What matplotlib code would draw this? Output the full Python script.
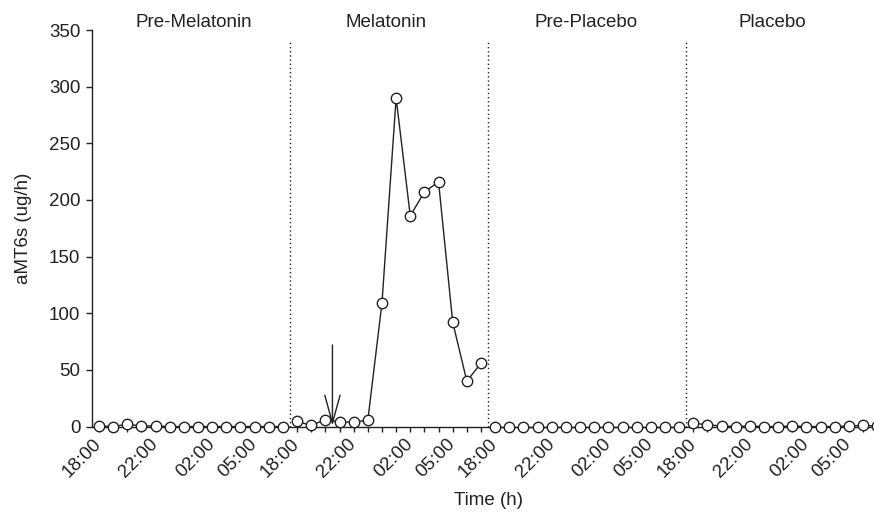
import matplotlib.pyplot as plt
import numpy as np

plt.rcParams['font.family'] = ['Liberation Sans', 'DejaVu Sans']

# hourly samples 18:00 -> 07:00, four recording nights
hours = ["18:00", "19:00", "20:00", "21:00", "22:00", "23:00", "00:00",
         "01:00", "02:00", "03:00", "04:00", "05:00", "06:00", "07:00"]
shown_hours = ["18:00", "22:00", "02:00", "05:00"]
periods = ["Pre-Melatonin", "Melatonin", "Pre-Placebo", "Placebo"]
period_label_x = [6.7, 20.3, 34.4, 47.6]

pre_melatonin = [0.5, 0, 2, 0.5, 0.5, 0, 0, 0, 0, 0, 0, 0, 0, 0]
melatonin = [4.5, 1, 6, 4, 4, 5.5, 109, 290, 186, 207, 216, 92, 40, 56]
pre_placebo = [0, 0, 0, 0, 0, 0, 0, 0, 0, 0, 0, 0, 0, 0]
placebo = [3, 1.5, 0.5, 0, 0.5, 0, 0, 0.5, 0, 0, 0, 0.5, 1, 0.5]
series = [pre_melatonin, melatonin, pre_placebo, placebo]

dose_time = 16.5   # melatonin given at 20:30 on the melatonin night
dose_arrow_top = 72

fs = 13.5
ink = '#222222'

fig = plt.figure(figsize=(8.74, 5.15), dpi=100)
ax = fig.add_axes([0.1056, 0.1718, 0.9062, 0.7699])

n = len(hours)
for i, vals in enumerate(series):
    x = np.arange(n) + i * n
    ax.plot(x, vals, color=ink, lw=1, marker='o', ms=7.5,
            mfc='white', mec=ink, mew=1, clip_on=False, zorder=3)

for i in range(1, len(periods)):
    ax.axvline(i * n - 0.5, ymin=0, ymax=0.97, color=ink, ls=(0, (1, 2)), lw=1)

for lab, xp in zip(periods, period_label_x):
    ax.text(xp, 1.008, lab, transform=ax.get_xaxis_transform(),
            ha='center', va='baseline', fontsize=fs, color=ink)

ax.annotate('', xy=(dose_time, 0.8), xytext=(dose_time, dose_arrow_top),
            arrowprops=dict(arrowstyle='->,head_length=2.0,head_width=0.55',
                            lw=1, color=ink, shrinkA=0, shrinkB=0,
                            mutation_scale=10))

ticks = np.arange(n * len(periods))
labels = [h if h in shown_hours else "" for h in hours] * len(periods)
ax.set_xticks(ticks)
ax.set_xticklabels(labels, rotation=45, ha='right', rotation_mode='anchor',
                   va='center', fontsize=fs, color=ink)
ax.tick_params(axis='x', length=3.5, width=1, pad=7, color=ink)
ax.tick_params(axis='y', length=4.5, width=1, pad=4, labelsize=fs,
               color=ink, labelcolor=ink)

ax.set_xlim(-0.47, 55.5)
ax.set_ylim(0, 350)
ax.set_yticks(range(0, 351, 50))
ax.spines['top'].set_visible(False)
ax.spines['right'].set_visible(False)
for side in ['left', 'bottom']:
    ax.spines[side].set_linewidth(1)
    ax.spines[side].set_color(ink)

ax.set_ylabel("aMT6s (ug/h)", fontsize=fs, labelpad=12, color=ink)
ax.set_xlabel("Time (h)", fontsize=fs, labelpad=8, color=ink)

fig.savefig("out.png", dpi=100)
